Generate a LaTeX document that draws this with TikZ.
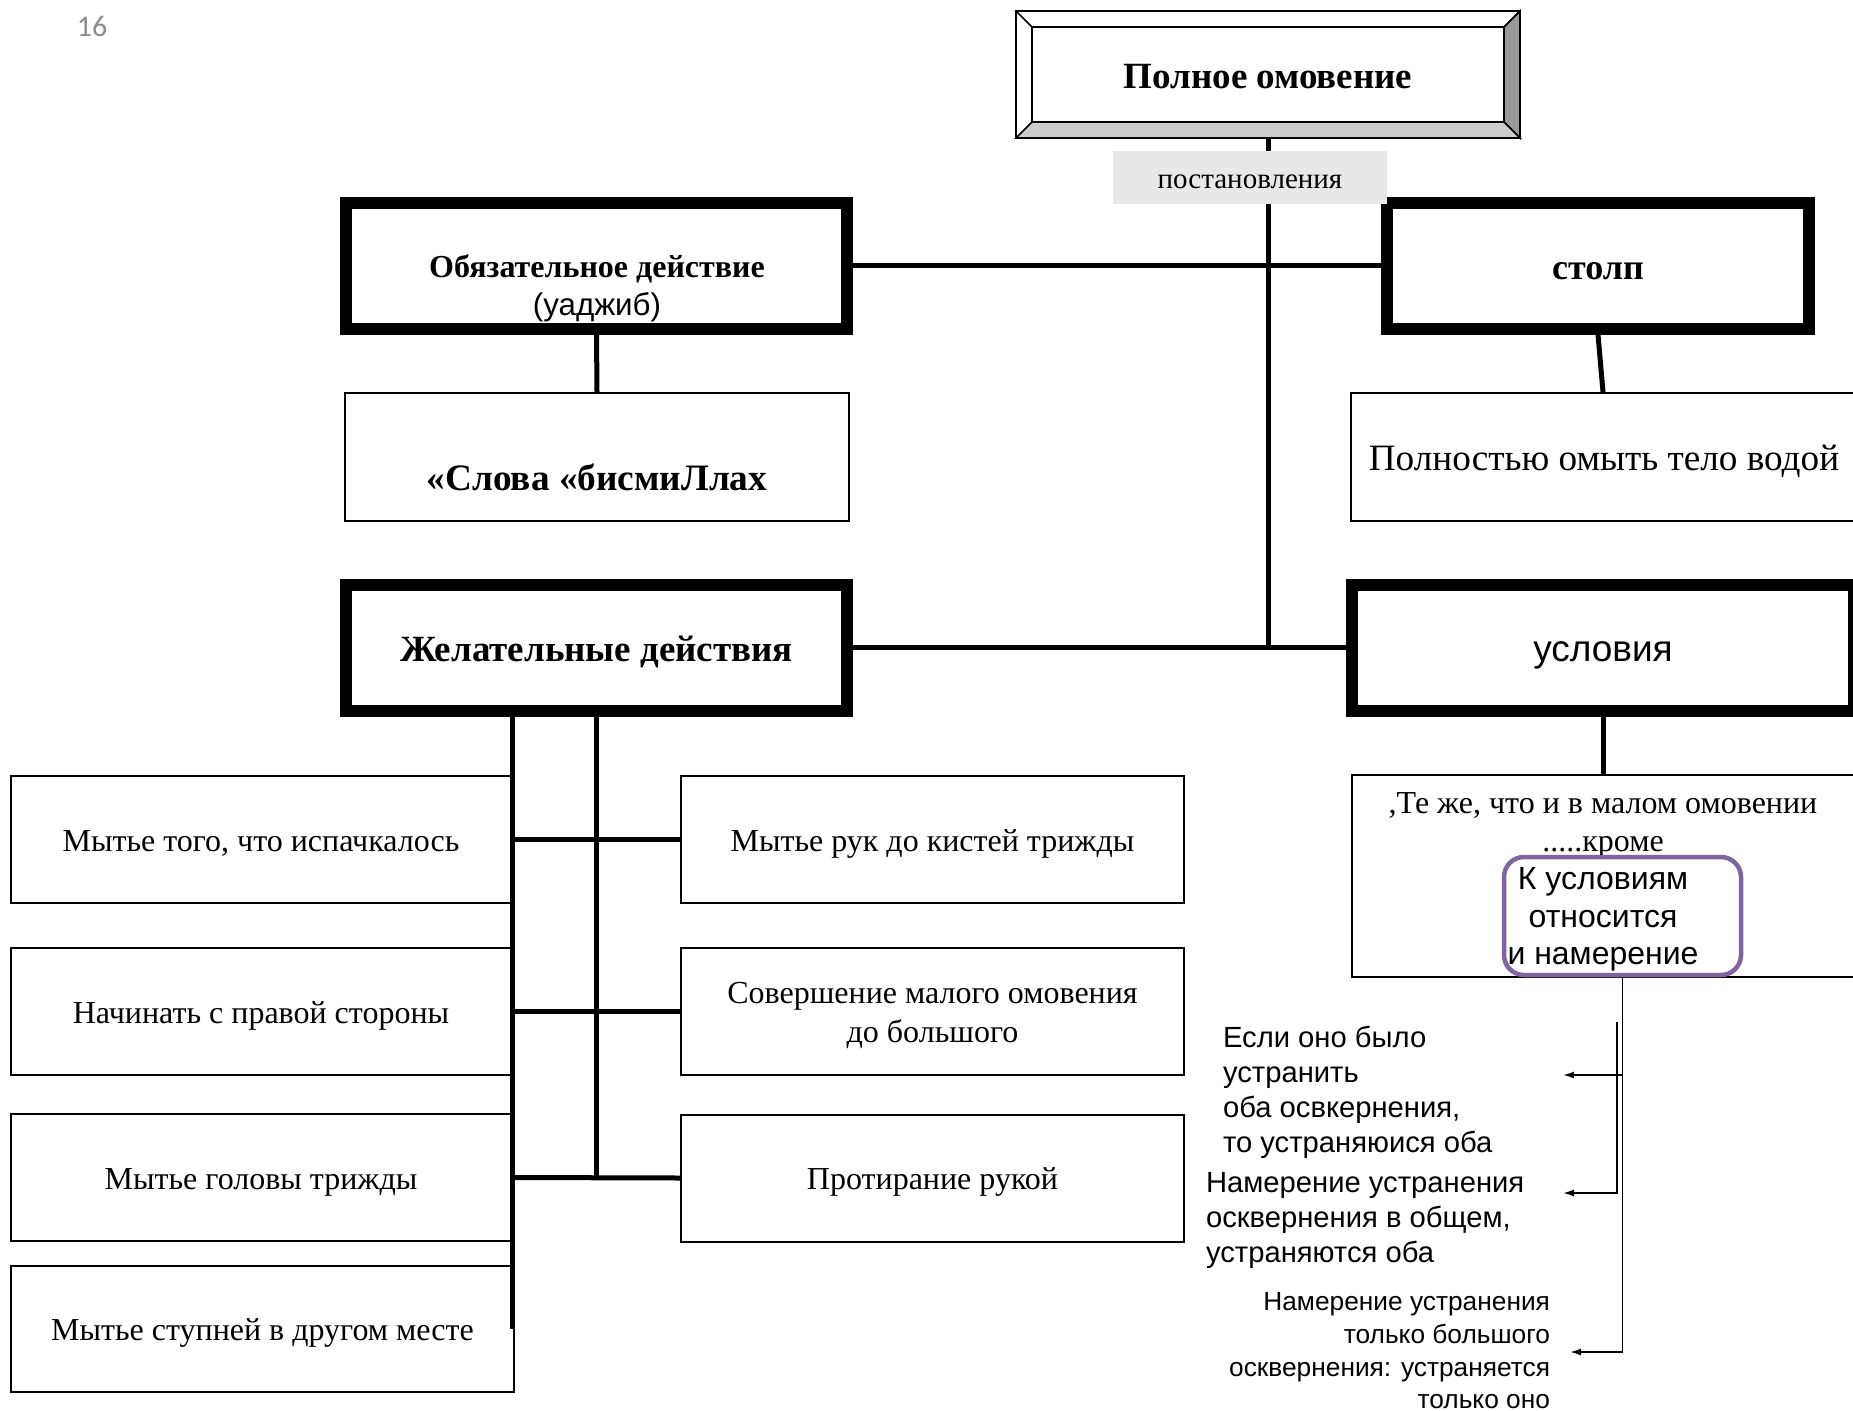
\documentclass[tikz,border=0pt]{standalone}
\usepackage{fontspec}
\setmainfont{Liberation Serif}
\newfontfamily\arialf{Liberation Sans}
\newfontfamily\calibf{Carlito}
\usetikzlibrary{arrows.meta}
\definecolor{tagfill}{HTML}{E8E8E8}
\definecolor{bevdark}{HTML}{999999}
\definecolor{bevlight}{HTML}{CCCCCC}
\definecolor{notepurple}{HTML}{8064A2}
\definecolor{pagegray}{HTML}{8C8C8C}
\tikzset{
  heavybox/.style={draw=black, line width=12pt, fill=white, inner sep=0pt, minimum width=501pt, minimum height=126pt},
  plainbox/.style={draw=black, line width=2pt, fill=white, inner sep=0pt, minimum width=502pt, minimum height=127pt},
  notebox/.style={draw=notepurple, line width=4.5pt, rounded corners=20pt, inner sep=0pt, minimum width=237pt, minimum height=118pt},
  trunk/.style={line width=5pt, draw=black},
  pointer/.style={line width=1.6pt, draw=black, -{Latex[length=11pt,width=7pt]}},
  serifbody/.style={font=\fontsize{32}{38.5}\selectfont, text height=23.7pt, text depth=0pt},
  seriflarge/.style={font=\fontsize{37.2}{44}\selectfont, text height=27.5pt, text depth=0pt},
  serifhead/.style={font=\bfseries\fontsize{37}{44}\selectfont, text height=27.6pt, text depth=0pt},
  sanshead/.style={font=\arialf\fontsize{37}{44}\selectfont, text height=27.4pt, text depth=0pt},
  sansnote/.style={font=\arialf\fontsize{29.2}{35}\selectfont},
  sanssmall/.style={font=\arialf\fontsize{26.3}{32.7}\selectfont},
  sanspurple/.style={font=\arialf\fontsize{32}{37.5}\selectfont},
}

\begin{document}
\begin{tikzpicture}[x=1pt,y=-1pt]
\useasboundingbox (0,0) rectangle (1853,1411);
\clip (0,0) rectangle (1853,1411);
\fill[white] (0,0) rectangle (1853,1411);

\node[font=\calibf\fontsize{30}{36}\selectfont, text=pagegray] (pagenum) at (92,26) {16};

% top frame with bevel
\node[inner sep=0pt, minimum width=504pt, minimum height=127pt, serifhead] (top) at (1268,74.5) {Полное омовение};
\coordinate (tnw) at ([shift={(16,16)}]top.north west);
\coordinate (tne) at ([shift={(-16,16)}]top.north east);
\coordinate (tse) at ([shift={(-16,-16)}]top.south east);
\coordinate (tsw) at ([shift={(16,-16)}]top.south west);
\filldraw[fill=bevdark, line width=1.5pt] (top.north east) -- (top.south east) -- (tse) -- (tne) -- cycle;
\filldraw[fill=bevlight, line width=1.5pt] (top.south west) -- (top.south east) -- (tse) -- (tsw) -- cycle;
\draw[line width=1.5pt] (tnw) rectangle (tse);
\draw[line width=1.5pt] (top.north west) -- (tnw) (top.north east) -- (tne);
\draw[line width=2pt] (top.north west) rectangle (top.south east);

% second row
\node[heavybox] (obyaz) at (596.5,265.5) {};
\node[font=\bfseries\fontsize{32}{38}\selectfont, anchor=base] (obyaztext) at (597,277) {Обязательное действие};
\node[font=\arialf\fontsize{31.3}{37}\selectfont, anchor=base] (obyazsub) at (597,315) {(уаджиб)};
\node[heavybox, minimum width=422pt, serifhead, font=\bfseries\fontsize{36}{43}\selectfont] (stolp) at (1598,265.5) {столп};

\node[plainbox, minimum width=504pt, minimum height=128pt] (slova) at (597,457) {};
\node[font=\bfseries\fontsize{37.3}{44}\selectfont, anchor=base] (slovatext) at (597,490) {«Слова «бисмиЛлах};
\node[plainbox, minimum width=506pt, minimum height=128pt, seriflarge] (poln) at (1604,457) {Полностью омыть тело водой};

% third row
\node[heavybox, serifhead] (zhel) at (596.5,647.5) {Желательные действия};
\node[heavybox, minimum width=502pt, sanshead] (usl) at (1603,647.5) {условия};

% desirable acts
\node[plainbox, minimum width=501pt, serifbody] (lA) at (261,839.5) {Мытье того, что испачкалось};
\node[plainbox, minimum width=501pt, serifbody] (lB) at (261,1011.5) {Начинать с правой стороны};
\node[plainbox, minimum width=501pt, serifbody] (lC) at (261,1177.5) {Мытье головы трижды};
\node[plainbox, minimum width=503pt, minimum height=126pt, serifbody] (lD) at (262.5,1329) {Мытье ступней в другом месте};
\node[plainbox, minimum width=503pt, serifbody] (rA) at (932.5,839.5) {Мытье рук до кистей трижды};
\node[plainbox, minimum width=503pt] (rB) at (932.5,1011.5) {};
\node[font=\fontsize{32}{38.5}\selectfont, align=center] (rBtext) at (932.5,1015.5) {Совершение малого омовения\\до большого};
\node[plainbox, minimum width=503pt, serifbody] (rC) at (932.5,1178) {Протирание рукой};

% conditions
\node[plainbox, minimum width=518pt, minimum height=202pt] (teje) at (1611,876) {};
\node[font=\fontsize{32}{38.5}\selectfont, align=center, anchor=north] (tejetext) at (1603,789) {,Те же, что и в малом омовении\\.....кроме};
\node[notebox] (kbox) at (1622.5,916) {};
\node[sanspurple, align=center, anchor=north] (ktext) at (1603,864) {К условиям\\ относится\\и намерение};

% connectors
\draw[trunk] (top.south) -- (top.south |- zhel.east);
\draw[trunk] (zhel.east) -- (usl.west);
\draw[trunk] (obyaz.east) -- (stolp.west);
\draw[trunk] (obyaz.south) -- (slova.north);
\draw[trunk] (stolp.south) -- (usl.north |- poln.north);
\draw[trunk] (usl.south) -- (usl.south |- teje.north);
\draw[trunk] (zhel.south -| lA.east) -- (lA.east |- lD.east);
\draw[trunk] (zhel.south) -- (zhel.south |- rC.west);
\foreach \a/\b in {lA/rA, lB/rB, lC/rC}
  \draw[trunk] (\a.east) -- (\b.west);

\node[fill=tagfill, inner sep=0pt, minimum width=274pt, minimum height=53pt, font=\fontsize{29}{35}\selectfont, text height=22pt, text depth=0pt] (ruling) at (1250,177.5) {постановления};

% intention cases
\coordinate (tipA) at (1563,1075);
\coordinate (tipB) at (1563,1193);
\coordinate (tipC) at (1570,1352);
\coordinate (bend) at (1617,1022);
\draw[pointer] (kbox.south) |- (tipC);
\draw[pointer] (kbox.south |- tipA) -- (tipA);
\draw[pointer] (bend) |- (tipB);

\node[sansnote, align=left, anchor=north west] (ifboth) at (1219.5,1023) {Если оно было\\устранить\\оба освкернения,\\то устраняюися оба};
\node[sansnote, align=left, anchor=north west] (general) at (1202.5,1169) {Намерение устранения\\осквернения в общем,\\устраняются оба};
\node[sanssmall, align=right, anchor=north east] (onlymajor) at (1553.5,1289) {Намерение устранения\\только большого\\осквернения: устраняется\\только оно};
\end{tikzpicture}
\end{document}
